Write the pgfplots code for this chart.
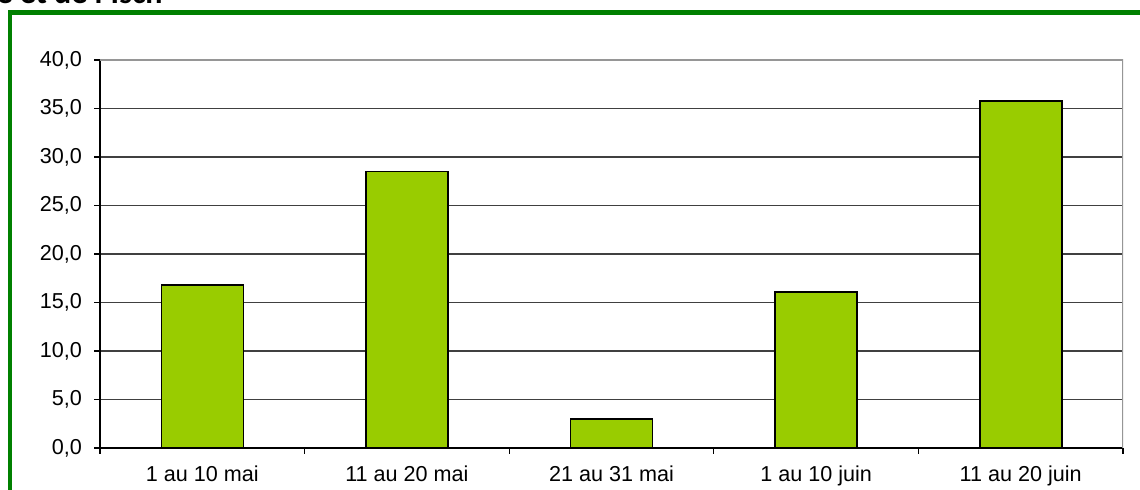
\documentclass[border=0pt]{standalone}
\usepackage{pgfplots}
\pgfplotsset{compat=1.18}
\usepackage{fontspec}
\setmainfont{Liberation Sans}
\newfontfamily\titlefont{Carlito}
\definecolor{barfill}{RGB}{153,204,0}
\definecolor{framegreen}{RGB}{0,128,0}
\definecolor{gridc}{RGB}{64,64,64}
\definecolor{bordc}{RGB}{150,150,150}
\begin{document}
\begin{tikzpicture}
\useasboundingbox (0,0) rectangle (570pt,245pt);
\clip (0,0) rectangle (570pt,245pt);
\fill[white] (0,0) rectangle (570pt,245pt);
\draw[framegreen, line width=2.3pt] (5pt,-20pt) -- (5pt,238.6pt) -- (620pt,238.6pt);
\node[anchor=base east, inner sep=0pt, font=\titlefont\bfseries\fontsize{16}{18}\selectfont] at (81.5pt,243pt) {e et de l’Isch};
\begin{axis}[
  at={(50pt,21pt)}, anchor=south west,
  scale only axis, width=511.5pt, height=194pt,
  xmin=-0.5, xmax=4.5, ymin=0, ymax=40,
  ytick={0,5,...,40},
  xtick={0,1,2,3,4},
  xticklabels={1 au 10 mai, 11 au 20 mai, 21 au 31 mai, 1 au 10 juin, 11 au 20 juin},
  minor xtick={-0.5,0.5,1.5,2.5,3.5,4.5},
  major x tick style={draw=none},
  tick align=outside,
  major tick length=3pt, minor tick length=3pt,
  tick style={black, line width=0.6pt},
  ymajorgrids, grid style={gridc, line width=0.6pt},
  axis line style={line width=0.6pt},
  axis x line*=bottom, axis y line*=left,
  ticklabel style={font=\fontsize{10.8}{12}\selectfont},
  xticklabel style={yshift=-2.6pt},
  yticklabel style={xshift=-2.5pt},
  /pgf/number format/.cd, fixed, fixed zerofill, precision=1, use comma, assume math mode=true,
]
\addplot[ybar, bar width=41pt, fill=barfill, draw=black, line width=0.8pt] coordinates {(0,16.8) (1,28.5) (2,3.0) (3,16.1) (4,35.8)};
\draw[bordc, line width=0.8pt] (axis cs:-0.5,40) -- (axis cs:4.5,40) -- (axis cs:4.5,0);
\end{axis}
\end{tikzpicture}
\end{document}
